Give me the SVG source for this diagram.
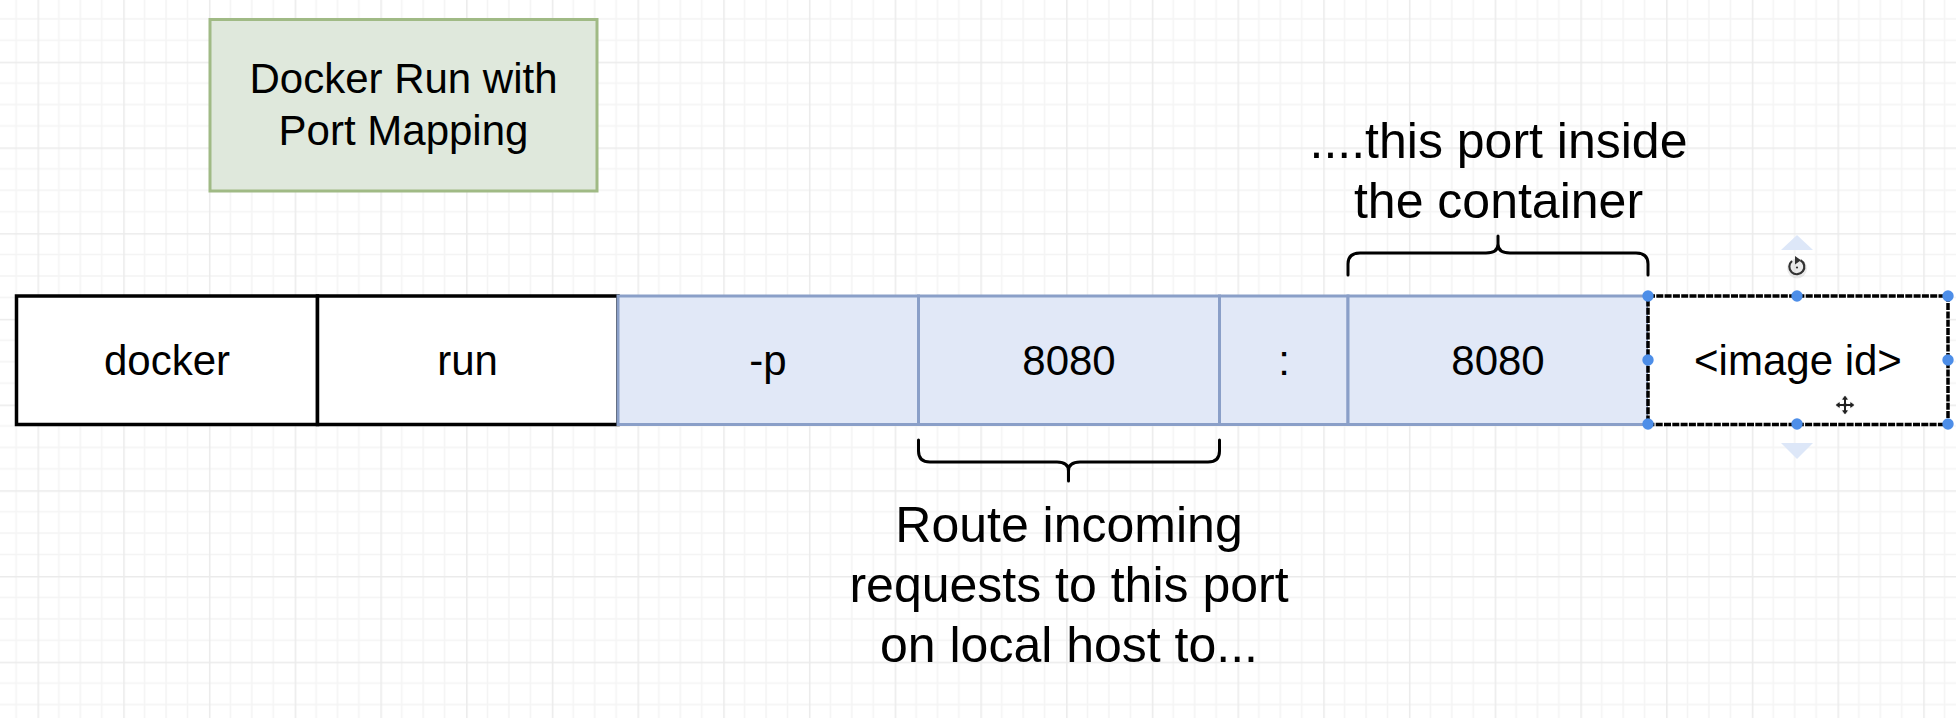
<svg xmlns="http://www.w3.org/2000/svg" width="1956" height="718" viewBox="0 0 1956 718">
<defs>
<pattern id="grid" patternUnits="userSpaceOnUse" x="37.5" y="61.7" width="85.714" height="85.714">
<path d="M21.43 0V85.714M42.86 0V85.714M64.29 0V85.714M0 21.43H85.714M0 42.86H85.714M0 64.29H85.714" stroke="#f4f4f4" stroke-width="1.5" fill="none"/>
<path d="M0.75 0V85.714M0 0.75H85.714" stroke="#ebebeb" stroke-width="1.6" fill="none"/>
</pattern>
<style>
text{font-family:"Liberation Sans",Arial,Helvetica,sans-serif;fill:#000;text-anchor:middle}
.cell{font-size:42px}
.ann{font-size:50px}
.black{fill:#fff;stroke:#000;stroke-width:3.5}
.blue{fill:#e1e8f7;stroke:#8a9fc8;stroke-width:3}
.brace{fill:none;stroke:#000;stroke-width:3;stroke-linecap:round;stroke-linejoin:round}
.handle{fill:#4d8ee8}
</style>
</defs>
<rect width="1956" height="718" fill="#fff"/>
<rect width="1956" height="718" fill="url(#grid)"/>

<g id="title">
<rect x="210" y="19.5" width="387" height="171.5" fill="#dfe8dc" stroke="#a0ba85" stroke-width="3"/>
<text class="cell" x="403.5" y="93">Docker Run with</text>
<text class="cell" x="403.5" y="145">Port Mapping</text>
</g>

<g id="cell-docker">
<rect class="black" x="16.5" y="296" width="301" height="128.5"/>
<text class="cell" x="167" y="375">docker</text>
</g>
<g id="cell-run">
<rect class="black" x="317.5" y="296" width="300.5" height="128.5"/>
<text class="cell" x="467.5" y="375">run</text>
</g>
<g id="cell-p">
<rect class="blue" x="618" y="296" width="300.5" height="128.5"/>
<text class="cell" x="768" y="375">-p</text>
</g>
<g id="cell-hostport">
<rect class="blue" x="918.5" y="296" width="301" height="128.5"/>
<text class="cell" x="1069" y="375">8080</text>
</g>
<g id="cell-colon">
<rect class="blue" x="1219.5" y="296" width="128.5" height="128.5"/>
<text class="cell" x="1284" y="375">:</text>
</g>
<g id="cell-containerport">
<rect class="blue" x="1348" y="296" width="300" height="128.5"/>
<text class="cell" x="1498" y="375">8080</text>
</g>
<g id="cell-imageid">
<rect x="1648" y="296" width="300" height="128.5" fill="#fff" stroke="#000" stroke-width="3.5" stroke-dasharray="7 1.3"/>
<text class="cell" x="1798" y="375">&lt;image id&gt;</text>
</g>

<g id="connectors">
<path class="brace" d="M1348,275 V264 Q1348,253 1360,253 H1486 Q1498,253 1498,244 V236 M1498,244 Q1498,253 1510,253 H1636 Q1648,253 1648,264 V275"/>
<path class="brace" d="M918.5,440 V451 Q918.5,462 930,462 H1057 Q1068.5,462 1068.5,471 V481 M1068.5,471 Q1068.5,462 1080,462 H1208 Q1219.5,462 1219.5,451 V440"/>
</g>

<g id="label-container">
<text class="ann" x="1498.5" y="158">....this port inside</text>
<text class="ann" x="1498.5" y="218">the container</text>
</g>
<g id="label-host">
<text class="ann" x="1069" y="542">Route incoming</text>
<text class="ann" x="1069" y="602">requests to this port</text>
<text class="ann" x="1069" y="662">on local host to...</text>
</g>

<g id="selection">
<polygon points="1797,235 1813,250 1781,250" fill="#dde7f8"/>
<polygon points="1781,443 1813,443 1797,459" fill="#dde7f8"/>
<circle cx="1797" cy="268.5" r="10" fill="#000" opacity="0.08"/>
<path d="M1800.5,260.2 A7.5,7.5 0 1 1 1792,261" fill="none" stroke="#333" stroke-width="2.2"/>
<polygon points="1795,256 1801,260.3 1795,264.5" fill="#333"/>
<circle cx="1797" cy="267.5" r="1.1" fill="#333"/>
<circle class="handle" cx="1648" cy="296" r="5.7"/>
<circle class="handle" cx="1797" cy="296" r="5.7"/>
<circle class="handle" cx="1948" cy="296" r="5.7"/>
<circle class="handle" cx="1648" cy="360" r="5.7"/>
<circle class="handle" cx="1948" cy="360" r="5.7"/>
<circle class="handle" cx="1648" cy="424" r="5.7"/>
<circle class="handle" cx="1797" cy="424" r="5.7"/>
<circle class="handle" cx="1948" cy="424" r="5.7"/>
<path d="M1845,395 L1849,400 H1846.5 V403.5 H1850 V401 L1855,405 L1850,409 V406.5 H1846.5 V410 H1849 L1845,415 L1841,410 H1843.5 V406.5 H1840 V409 L1835,405 L1840,401 V403.5 H1843.5 V400 H1841 Z" fill="#222" stroke="#fff" stroke-width="1"/>
</g>
</svg>
